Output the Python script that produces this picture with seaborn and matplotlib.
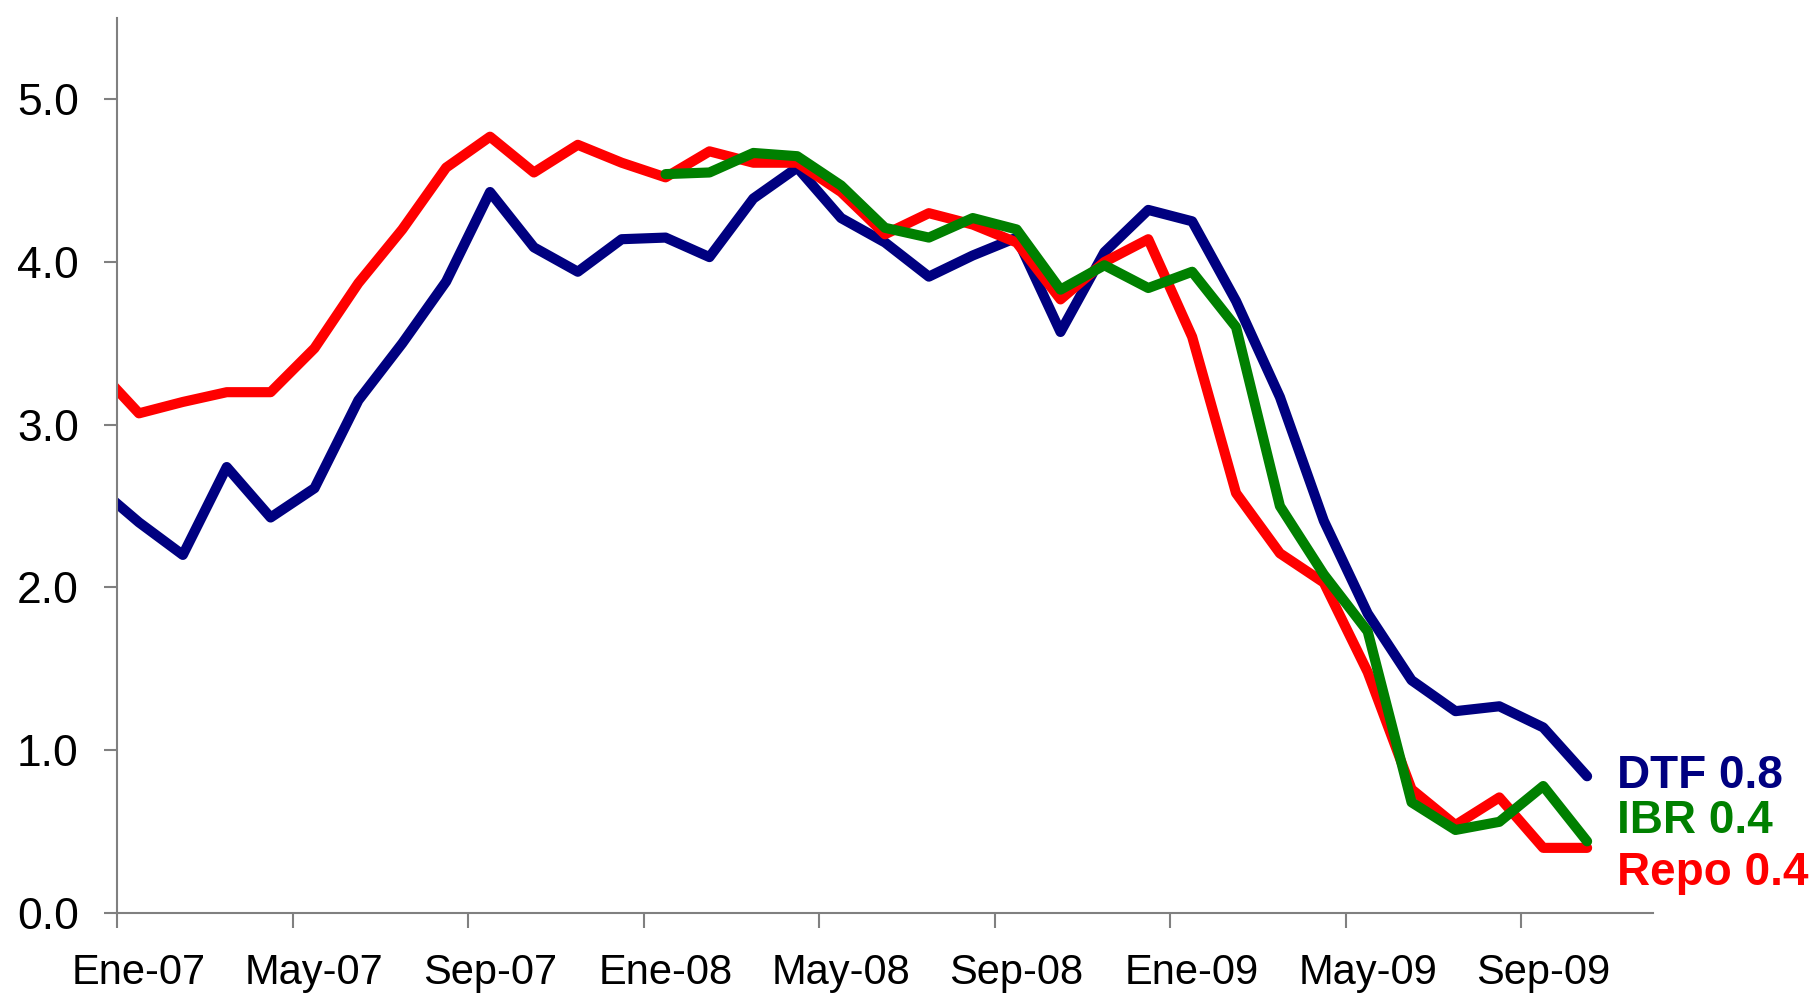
import numpy as np
import pandas as pd
import matplotlib
matplotlib.use("Agg")
import matplotlib.pyplot as plt
import seaborn as sns

# month labels, Dic-06 .. Oct-09 (Dic-06 only feeds the clipped first segment)
mes = ["Ene", "Feb", "Mar", "Abr", "May", "Jun", "Jul", "Ago", "Sep", "Oct", "Nov", "Dic"]
months = ["Dic-06"] + [f"{m}-{y}" for y in ("07", "08", "09") for m in mes][:34]

dtf = [2.63, 2.40, 2.20, 2.74, 2.43, 2.61, 3.15, 3.50, 3.88, 4.43, 4.09, 3.94, 4.14,
       4.15, 4.03, 4.39, 4.58, 4.27, 4.12, 3.91, 4.04, 4.15, 3.57, 4.06, 4.32, 4.25,
       3.76, 3.17, 2.41, 1.84, 1.43, 1.24, 1.27, 1.14, 0.84]
repo = [3.36, 3.07, 3.14, 3.20, 3.20, 3.47, 3.87, 4.20, 4.58, 4.77, 4.55, 4.72, 4.61,
        4.52, 4.68, 4.61, 4.61, 4.43, 4.17, 4.30, 4.23, 4.12, 3.77, 4.00, 4.14, 3.54,
        2.58, 2.21, 2.03, 1.48, 0.76, 0.54, 0.71, 0.40, 0.40]
ibr = [np.nan] * 13 + [4.54, 4.55, 4.67, 4.65, 4.47, 4.21, 4.15, 4.27, 4.20, 3.83,
                       3.98, 3.84, 3.94, 3.60, 2.50, 2.08, 1.73, 0.68, 0.51, 0.56,
                       0.78, 0.44]

names = ["DTF", "Repo", "IBR"]
colors = {"DTF": "#000080", "Repo": "#FF0000", "IBR": "#008000"}
label_offset = {"DTF": 0, "Repo": 25, "IBR": -20}

df = pd.DataFrame({"mes": months, "DTF": dtf, "Repo": repo, "IBR": ibr})
df["x"] = np.arange(len(df)) - 1  # Ene-07 -> 0

sns.set_style("white")
plt.rcParams["font.family"] = ["Liberation Sans", "DejaVu Sans"]

fig = plt.figure(figsize=(18.2, 9.93), dpi=100)
ax = fig.add_axes([0.0643, 0.0806, 0.8439, 0.9014])

for name in names:
    sub = df[["x", name]].dropna()
    sns.lineplot(data=sub, x="x", y=name, ax=ax, color=colors[name], lw=7.3,
                 estimator=None, sort=False, solid_capstyle="round",
                 solid_joinstyle="round")
    last = sub.iloc[-1]
    ax.annotate(f"{name} {last[name]:.1f}", xy=(last["x"], last[name]),
                xytext=(30, -label_offset[name]), textcoords="offset pixels",
                ha="left", va="center", fontsize=33, fontweight="bold",
                color=colors[name], annotation_clip=False)

ax.set_xlim(-0.5, 34.5)
ax.set_ylim(0, 5.5)
ax.set_xlabel("")
ax.set_ylabel("")

# tick marks between categories, labels centred on the month
ax.set_xticks(np.arange(-0.5, 32, 4))
ax.set_xticklabels([])
lab_pos = np.arange(0, 33, 4)
ax.set_xticks(lab_pos, minor=True)
ax.set_xticklabels([months[i + 1] for i in lab_pos], minor=True)
ax.tick_params(axis="x", which="major", direction="out", length=11, width=1.5,
               color="#808080", bottom=True)
ax.tick_params(axis="x", which="minor", length=0, pad=29, labelsize=30,
               labelcolor="black", bottom=True)

ax.set_yticks(np.arange(0, 5.1, 1))
ax.set_yticklabels([f"{v:.1f}" for v in np.arange(0, 5.1, 1)])
ax.tick_params(axis="y", direction="out", length=9.5, width=1.5, color="#808080",
               pad=18, labelsize=32, labelcolor="black", left=True)

for side in ["top", "right"]:
    ax.spines[side].set_visible(False)
for side in ["left", "bottom"]:
    ax.spines[side].set_color("#808080")
    ax.spines[side].set_linewidth(1.5)

fig.savefig("out.png", dpi=100)
